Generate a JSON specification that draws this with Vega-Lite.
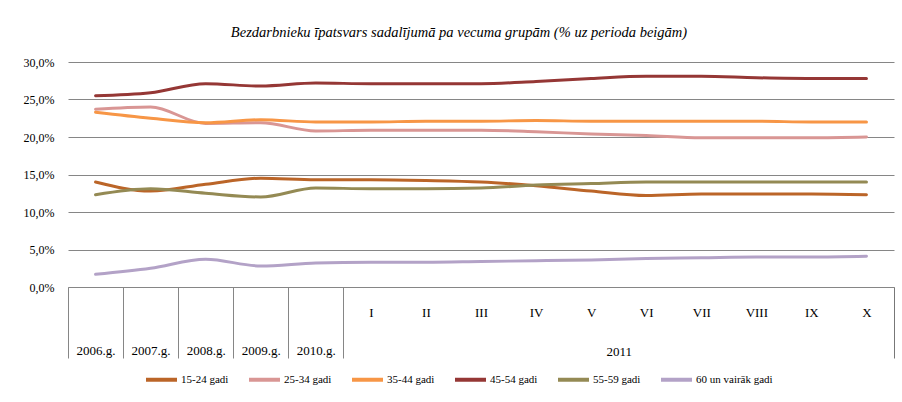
{
  "$schema": "https://vega.github.io/schema/vega-lite/v6.json",
  "width": 826,
  "height": 225,
  "autosize": {"type": "none"},
  "padding": {"left": 68, "top": 62, "right": 8, "bottom": 115},
  "background": "white",
  "title": {
    "text": "Bezdarbnieku īpatsvars sadalījumā pa vecuma grupām (% uz perioda beigām)",
    "font": "Liberation Serif",
    "fontStyle": "italic",
    "fontWeight": "normal",
    "fontSize": 14.5,
    "color": "#000000",
    "anchor": "middle",
    "dx": -22,
    "offset": 16
  },
  "data": {
    "values": [
      {"p": "2006.g.", "g": "15-24 gadi", "v": 14.0},
      {"p": "2007.g.", "g": "15-24 gadi", "v": 12.8},
      {"p": "2008.g.", "g": "15-24 gadi", "v": 13.7},
      {"p": "2009.g.", "g": "15-24 gadi", "v": 14.5},
      {"p": "2010.g.", "g": "15-24 gadi", "v": 14.3},
      {"p": "I", "g": "15-24 gadi", "v": 14.3},
      {"p": "II", "g": "15-24 gadi", "v": 14.2},
      {"p": "III", "g": "15-24 gadi", "v": 14.0},
      {"p": "IV", "g": "15-24 gadi", "v": 13.5},
      {"p": "V", "g": "15-24 gadi", "v": 12.8},
      {"p": "VI", "g": "15-24 gadi", "v": 12.2},
      {"p": "VII", "g": "15-24 gadi", "v": 12.4},
      {"p": "VIII", "g": "15-24 gadi", "v": 12.4},
      {"p": "IX", "g": "15-24 gadi", "v": 12.4},
      {"p": "X", "g": "15-24 gadi", "v": 12.3},
      {"p": "2006.g.", "g": "25-34 gadi", "v": 23.7},
      {"p": "2007.g.", "g": "25-34 gadi", "v": 24.0},
      {"p": "2008.g.", "g": "25-34 gadi", "v": 21.8},
      {"p": "2009.g.", "g": "25-34 gadi", "v": 21.9},
      {"p": "2010.g.", "g": "25-34 gadi", "v": 20.8},
      {"p": "I", "g": "25-34 gadi", "v": 20.9},
      {"p": "II", "g": "25-34 gadi", "v": 20.9},
      {"p": "III", "g": "25-34 gadi", "v": 20.9},
      {"p": "IV", "g": "25-34 gadi", "v": 20.7},
      {"p": "V", "g": "25-34 gadi", "v": 20.4},
      {"p": "VI", "g": "25-34 gadi", "v": 20.2},
      {"p": "VII", "g": "25-34 gadi", "v": 19.9},
      {"p": "VIII", "g": "25-34 gadi", "v": 19.9},
      {"p": "IX", "g": "25-34 gadi", "v": 19.9},
      {"p": "X", "g": "25-34 gadi", "v": 20.0},
      {"p": "2006.g.", "g": "35-44 gadi", "v": 23.3},
      {"p": "2007.g.", "g": "35-44 gadi", "v": 22.5},
      {"p": "2008.g.", "g": "35-44 gadi", "v": 21.9},
      {"p": "2009.g.", "g": "35-44 gadi", "v": 22.3},
      {"p": "2010.g.", "g": "35-44 gadi", "v": 22.0},
      {"p": "I", "g": "35-44 gadi", "v": 22.0},
      {"p": "II", "g": "35-44 gadi", "v": 22.1},
      {"p": "III", "g": "35-44 gadi", "v": 22.1},
      {"p": "IV", "g": "35-44 gadi", "v": 22.2},
      {"p": "V", "g": "35-44 gadi", "v": 22.1},
      {"p": "VI", "g": "35-44 gadi", "v": 22.1},
      {"p": "VII", "g": "35-44 gadi", "v": 22.1},
      {"p": "VIII", "g": "35-44 gadi", "v": 22.1},
      {"p": "IX", "g": "35-44 gadi", "v": 22.0},
      {"p": "X", "g": "35-44 gadi", "v": 22.0},
      {"p": "2006.g.", "g": "45-54 gadi", "v": 25.5},
      {"p": "2007.g.", "g": "45-54 gadi", "v": 25.9},
      {"p": "2008.g.", "g": "45-54 gadi", "v": 27.1},
      {"p": "2009.g.", "g": "45-54 gadi", "v": 26.8},
      {"p": "2010.g.", "g": "45-54 gadi", "v": 27.2},
      {"p": "I", "g": "45-54 gadi", "v": 27.1},
      {"p": "II", "g": "45-54 gadi", "v": 27.1},
      {"p": "III", "g": "45-54 gadi", "v": 27.1},
      {"p": "IV", "g": "45-54 gadi", "v": 27.4},
      {"p": "V", "g": "45-54 gadi", "v": 27.8},
      {"p": "VI", "g": "45-54 gadi", "v": 28.1},
      {"p": "VII", "g": "45-54 gadi", "v": 28.1},
      {"p": "VIII", "g": "45-54 gadi", "v": 27.9},
      {"p": "IX", "g": "45-54 gadi", "v": 27.8},
      {"p": "X", "g": "45-54 gadi", "v": 27.8},
      {"p": "2006.g.", "g": "55-59 gadi", "v": 12.3},
      {"p": "2007.g.", "g": "55-59 gadi", "v": 13.1},
      {"p": "2008.g.", "g": "55-59 gadi", "v": 12.5},
      {"p": "2009.g.", "g": "55-59 gadi", "v": 12.0},
      {"p": "2010.g.", "g": "55-59 gadi", "v": 13.2},
      {"p": "I", "g": "55-59 gadi", "v": 13.1},
      {"p": "II", "g": "55-59 gadi", "v": 13.1},
      {"p": "III", "g": "55-59 gadi", "v": 13.2},
      {"p": "IV", "g": "55-59 gadi", "v": 13.6},
      {"p": "V", "g": "55-59 gadi", "v": 13.8},
      {"p": "VI", "g": "55-59 gadi", "v": 14.0},
      {"p": "VII", "g": "55-59 gadi", "v": 14.0},
      {"p": "VIII", "g": "55-59 gadi", "v": 14.0},
      {"p": "IX", "g": "55-59 gadi", "v": 14.0},
      {"p": "X", "g": "55-59 gadi", "v": 14.0},
      {"p": "2006.g.", "g": "60 un vairāk gadi", "v": 1.7},
      {"p": "2007.g.", "g": "60 un vairāk gadi", "v": 2.5},
      {"p": "2008.g.", "g": "60 un vairāk gadi", "v": 3.7},
      {"p": "2009.g.", "g": "60 un vairāk gadi", "v": 2.8},
      {"p": "2010.g.", "g": "60 un vairāk gadi", "v": 3.2},
      {"p": "I", "g": "60 un vairāk gadi", "v": 3.3},
      {"p": "II", "g": "60 un vairāk gadi", "v": 3.3},
      {"p": "III", "g": "60 un vairāk gadi", "v": 3.4},
      {"p": "IV", "g": "60 un vairāk gadi", "v": 3.5},
      {"p": "V", "g": "60 un vairāk gadi", "v": 3.6},
      {"p": "VI", "g": "60 un vairāk gadi", "v": 3.8},
      {"p": "VII", "g": "60 un vairāk gadi", "v": 3.9},
      {"p": "VIII", "g": "60 un vairāk gadi", "v": 4.0},
      {"p": "IX", "g": "60 un vairāk gadi", "v": 4.0},
      {"p": "X", "g": "60 un vairāk gadi", "v": 4.1}
    ]
  },
  "mark": {"type": "line", "interpolate": "monotone", "strokeWidth": 3, "strokeCap": "round"},
  "encoding": {
    "x": {
      "field": "p",
      "type": "ordinal",
      "sort": null,
      "scale": {
        "type": "band",
        "paddingInner": 0,
        "paddingOuter": 0,
        "domain": ["2006.g.", "2007.g.", "2008.g.", "2009.g.", "2010.g.", "I", "II", "III", "IV", "V", "VI", "VII", "VIII", "IX", "X"]
      },
      "axis": {
        "title": "2011",
        "titleX": 550.7,
        "titleY": 64,
        "titleAlign": "center",
        "titleBaseline": "middle",
        "titleFont": "Liberation Serif",
        "titleFontSize": 13,
        "titleFontWeight": "normal",
        "titleColor": "#000000",
        "tickBand": "extent",
        "tickSize": 71,
        "tickWidth": 1,
        "tickColor": {
          "condition": [
            {"test": "datum.value == 'X'", "value": "#777777"},
            {"test": "datum.value == 'I' || datum.value == 'II' || datum.value == 'III' || datum.value == 'IV' || datum.value == 'V' || datum.value == 'VI' || datum.value == 'VII' || datum.value == 'VIII' || datum.value == 'IX'", "value": "rgba(255,255,255,0)"}
          ],
          "value": "#868686"
        },
        "labelPadding": {
          "condition": {"test": "indexof(['2006.g.','2007.g.','2008.g.','2009.g.','2010.g.'], datum.value) >= 0", "value": -7.5},
          "value": -46
        },
        "labelAngle": 0,
        "labelBaseline": "middle",
        "labelFont": "Liberation Serif",
        "labelFontSize": 13,
        "labelColor": "#000000",
        "domainColor": "#868686",
        "domainWidth": 1,
        "grid": false
      }
    },
    "y": {
      "field": "v",
      "type": "quantitative",
      "scale": {"domain": [0, 30], "nice": false},
      "axis": {
        "title": null,
        "values": [0, 5, 10, 15, 20, 25, 30],
        "labelExpr": "replace(format(datum.value, '.1f'), '.', ',') + '%'",
        "ticks": false,
        "domain": false,
        "grid": true,
        "gridColor": "#868686",
        "gridWidth": 1,
        "labelPadding": 14,
        "labelFont": "Liberation Serif",
        "labelFontSize": 12,
        "labelColor": "#000000"
      }
    },
    "color": {
      "field": "g",
      "type": "nominal",
      "scale": {
        "domain": ["15-24 gadi", "25-34 gadi", "35-44 gadi", "45-54 gadi", "55-59 gadi", "60 un vairāk gadi"],
        "range": ["#BB6528", "#D99694", "#F79646", "#953735", "#948A54", "#B3A2C7"]
      },
      "legend": {
        "title": null,
        "orient": "none",
        "direction": "horizontal",
        "legendX": 76,
        "legendY": 300,
        "padding": 0,
        "symbolType": "stroke",
        "symbolSize": 961,
        "symbolStrokeWidth": 4,
        "symbolOffset": 0,
        "labelOffset": 2,
        "columnPadding": 12,
        "labelFont": "Liberation Serif",
        "labelFontSize": 11,
        "labelColor": "#000000"
      }
    }
  },
  "config": {
    "font": "Liberation Serif",
    "view": {"stroke": null}
  }
}
